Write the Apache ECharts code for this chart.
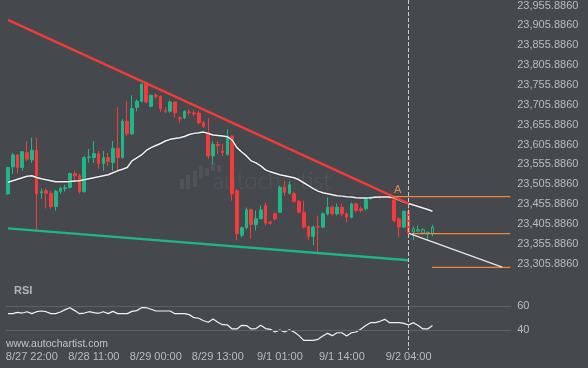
<!DOCTYPE html>
<html>
<head>
<meta charset="utf-8">
<script src="https://cdn.jsdelivr.net/npm/echarts@6/dist/echarts.min.js"></script>
<style>
html,body{margin:0;padding:0;background:#45484c;}
#chart{width:588px;height:368px;}
</style>
</head>
<body>
<div id="chart"></div>
<script>
// ---- data ----
const candleCount = 90;
const slotCount = 106; // candles + empty space to the right
const tickIdx = [5, 18, 31, 44, 57, 70, 84];
const tickText = ['8/27 22:00', '8/28 11:00', '8/29 00:00', '8/29 13:00', '9/1 01:00', '9/1 14:00', '9/2 04:00'];
const priceTicks = [23305.886, 23355.886, 23405.886, 23455.886, 23505.886, 23555.886, 23605.886,
  23655.886, 23705.886, 23755.886, 23805.886, 23855.886, 23905.886, 23955.886];
const rsiTicks = [40, 60];
const hollowFrom = 85;
// [open, close, low, high]
const candles = [
[23481.4,23547.9,23479.6,23549.6],[23549.6,23579.6,23532.1,23584.6],[23579.6,23547.9,23532.9,23582.1],
[23547.9,23587.9,23539.6,23589.6],[23585.4,23568.9,23564.6,23614.6],[23567.1,23591.4,23559.6,23622.9],
[23591.4,23481.4,23389.6,23622.9],[23484.6,23487.1,23469.6,23494.6],[23489.6,23482.9,23444.6,23494.6],
[23482.9,23449.6,23444.6,23489.6],[23449.6,23487.9,23439.6,23492.1],[23487.9,23495.4,23482.1,23499.6],
[23494.6,23497.1,23487.1,23504.6],[23497.9,23532.9,23494.6,23535.4],[23532.9,23527.1,23509.6,23539.6],
[23527.1,23487.1,23482.1,23532.1],[23487.1,23572.9,23484.6,23577.1],[23572.9,23574.6,23560.4,23594.6],
[23572.9,23582.9,23559.6,23614.6],[23582.9,23557.9,23544.6,23589.6],[23557.9,23572.9,23539.6,23589.6],
[23572.9,23562.9,23552.1,23584.6],[23560.4,23596.4,23539.6,23614.6],[23596.4,23572.9,23539.6,23699.6],
[23572.9,23664.6,23569.6,23669.6],[23664.6,23632.9,23627.1,23714.6],[23632.9,23696.4,23629.6,23729.6],
[23699.6,23714.6,23689.6,23719.6],[23714.6,23757.9,23712.1,23759.6],[23757.9,23712.9,23709.6,23762.9],
[23702.1,23729.6,23699.6,23732.1],[23729.6,23727.1,23722.1,23734.6],[23727.1,23696.4,23687.9,23729.6],
[23691.4,23689.6,23685.4,23699.6],[23689.6,23712.9,23685.4,23717.1],[23712.9,23685.4,23672.9,23714.6],
[23672.9,23670.4,23660.4,23677.1],[23672.9,23689.6,23669.6,23692.1],[23687.9,23686.6,23679.6,23694.6],
[23685.4,23682.9,23677.1,23692.1],[23685.4,23660.4,23657.1,23689.6],[23660.4,23652.1,23647.1,23664.6],
[23635.4,23577.1,23569.6,23672.9],[23577.1,23606.4,23556.4,23614.6],[23606.4,23602.9,23582.1,23614.6],
[23589.6,23585.4,23577.1,23607.1],[23581.4,23627.1,23577.1,23644.6],[23627.1,23481.4,23464.6,23629.6],
[23489.6,23381.4,23364.6,23494.6],[23377.1,23396.4,23372.1,23399.6],[23396.4,23441.4,23392.1,23447.1],
[23441.4,23404.6,23368.9,23444.6],[23404.6,23418.9,23389.6,23439.6],[23418.9,23441.4,23417.1,23452.1],
[23452.1,23407.9,23402.1,23459.6],[23410.4,23407.9,23404.6,23414.6],[23431.4,23418.9,23414.6,23434.6],
[23435.4,23497.9,23434.6,23502.1],[23497.9,23485.4,23477.1,23514.6],[23482.9,23504.6,23479.6,23512.9],
[23482.9,23462.9,23459.6,23487.1],[23462.9,23435.4,23432.1,23467.1],[23435.4,23397.9,23394.6,23464.6],
[23399.6,23374.6,23364.6,23402.1],[23374.6,23397.9,23352.1,23402.1],[23399.6,23397.9,23335.4,23427.1],
[23397.9,23431.4,23394.6,23434.6],[23431.4,23447.9,23427.1,23472.9],[23447.9,23431.4,23427.1,23452.1],
[23431.4,23447.9,23427.1,23457.1],[23447.9,23431.4,23424.6,23457.1],[23431.4,23422.9,23410.4,23434.6],
[23422.9,23456.4,23419.6,23459.6],[23456.4,23439.6,23434.6,23459.6],[23443.9,23439.6,23434.6,23449.6],
[23443.9,23468.9,23439.6,23472.1],[23468.9,23472.9,23467.1,23474.6],[23472.9,23474.6,23472.1,23475.9],
[23474.6,23471.4,23469.6,23475.9],[23472.9,23474.6,23472.1,23475.9],[23474.6,23471.4,23469.6,23475.9],
[23466.4,23414.6,23409.6,23469.6],[23418.9,23397.9,23371.4,23422.1],[23397.9,23437.9,23394.6,23439.6],
[23437.9,23382.9,23379.6,23452.1],[23385.4,23393.9,23364.6,23399.6],[23391.4,23387.9,23384.6,23402.1],
[23391.4,23382.9,23379.6,23394.6],[23384.6,23382.1,23364.6,23387.1],[23381.4,23397.9,23374.6,23403.9]
];
const movingAvg = [
23510.9,23514.6,23518.4,23522.1,23525.9,23527.1,23522.9,23519.6,23517.1,23514.6,
23512.1,23512.1,23512.1,23512.9,23513.9,23514.6,23517.1,23519.6,23522.1,23524.6,
23527.1,23529.6,23534.6,23539.6,23543.4,23547.9,23564.6,23572.1,23579.6,23590.9,
23597.9,23603.4,23608.4,23614.6,23618.9,23620.9,23622.9,23625.9,23630.9,23633.9,
23635.4,23637.1,23633.4,23629.6,23628.4,23627.1,23625.4,23617.1,23597.9,23587.1,
23577.1,23564.6,23559.6,23552.1,23542.1,23537.1,23533.4,23529.6,23527.1,23524.6,
23522.1,23517.1,23509.6,23502.1,23494.6,23488.4,23484.6,23482.1,23479.6,23477.1,
23475.9,23474.6,23473.4,23472.1,23471.4,23471.4,23472.1,23472.9,23473.4,23473.9,
23473.9,23470.9,23465.9,23460.9,23457.1,23453.4,23449.6,23445.9,23442.1,23437.9
];
const rsi = [
53.7,53.7,54.8,54.2,55.3,53.7,55.3,55.9,55.3,53.7,
53.7,55.1,57.0,58.6,56.2,53.7,54.2,55.3,54.5,54.0,
55.3,53.7,55.6,53.7,53.7,53.7,55.6,56.2,58.6,58.6,
57.3,55.9,55.9,55.9,55.9,53.7,53.7,53.7,52.9,50.4,
49.9,47.9,46.6,49.3,46.6,44.6,44.4,41.1,41.1,44.1,
43.9,41.1,41.4,44.1,41.4,40.8,38.6,40.2,38.6,40.5,
38.6,35.6,31.7,31.7,31.7,32.6,35.3,37.5,35.6,38.0,
38.0,35.3,38.0,38.6,41.1,43.9,46.3,46.3,47.4,49.0,
46.3,46.3,46.3,45.7,44.4,46.3,43.9,41.1,41.1,43.9
];
const resistance = [[0, 23919.6], [84, 23457.1]];
const support = [[0, 23394.6], [84, 23314.6]];
const levelA = [[80.7, 23474.6], [105.3, 23474.6]];
const levelB = [[84.7, 23381.4], [105.3, 23381.4]];
const levelC = [[88.9, 23296.4], [105.3, 23296.4]];
const forecast = [[84.07, 23382.1], [103.6, 23297.1]];
const markerA = [81.7, 23474.6];
const nowIdx = 84;
const nowLineSpan = [311.85, 23.8]; // in RSI-panel units, top to bottom

// ---- chart ----
const BG = '#45484c', UP = '#1fb787', DOWN = '#f53a3b', ORANGE = '#f2843c', TXT = '#babcbf';
const FONT = '"Liberation Sans", Arial, sans-serif';
const categories = Array.from({length: slotCount}, (_, i) => String(i));
const fmtPrice = v => {
  const m = priceTicks.find(t => Math.abs(t - v) < 0.5);
  return m === undefined ? '' : m.toLocaleString('en-US', {minimumFractionDigits: 4, maximumFractionDigits: 4});
};
const candleData = candles.map((c, i) => i >= hollowFrom
  ? {value: c, itemStyle: {color: BG, color0: BG, borderColor: UP, borderColor0: DOWN}}
  : c);

const chart = echarts.init(document.getElementById('chart'), null, {renderer: 'canvas'});
chart.setOption({
  animation: false,
  backgroundColor: BG,
  textStyle: {fontFamily: FONT},
  grid: [
    {left: 5.6, top: 0, width: 505.6, height: 283.5},
    {left: 5.6, top: 0, width: 505.6, height: 354.6}
  ],
  xAxis: [
    {type: 'category', gridIndex: 0, data: categories, show: false},
    {type: 'value', gridIndex: 0, min: -0.5, max: slotCount - 0.5, show: false},
    {type: 'category', gridIndex: 1, data: categories,
      axisLine: {show: false}, axisTick: {show: false}, splitLine: {show: false},
      axisLabel: {color: TXT, fontSize: 11, fontFamily: FONT, margin: 2.5, verticalAlign: 'middle',
        interval: i => tickIdx.includes(i),
        formatter: (v, i) => { const k = tickIdx.indexOf(Number(v)); return k < 0 ? '' : tickText[k]; }}}
  ],
  yAxis: [
    {type: 'value', gridIndex: 0, position: 'right', min: 23255.886, max: 23964.636, interval: 50,
      axisLine: {show: false}, axisTick: {show: false}, splitLine: {show: false},
      axisLabel: {color: TXT, fontSize: 11, fontFamily: FONT, margin: 6, formatter: fmtPrice}},
    {type: 'value', gridIndex: 1, position: 'right', min: 20, max: 311.85, interval: 20,
      axisLine: {show: false}, axisTick: {show: false}, splitLine: {show: false},
      axisLabel: {color: TXT, fontSize: 11, fontFamily: FONT, margin: 6,
        formatter: v => rsiTicks.includes(Math.round(v)) ? String(Math.round(v)) : ''}}
  ],
  series: [
    {type: 'candlestick', xAxisIndex: 0, yAxisIndex: 0, data: candleData, barWidth: 3.2,
      itemStyle: {color: UP, color0: DOWN, borderColor: UP, borderColor0: DOWN, borderWidth: 1}},
    {type: 'line', xAxisIndex: 0, yAxisIndex: 0, data: movingAvg, symbol: 'none',
      lineStyle: {color: '#f2f2f2', width: 1.5, shadowColor: 'rgba(0,0,0,0.35)', shadowBlur: 2}},
    {type: 'line', xAxisIndex: 1, yAxisIndex: 0, data: resistance, symbol: 'none',
      lineStyle: {color: '#f03b3b', width: 2.4}},
    {type: 'line', xAxisIndex: 1, yAxisIndex: 0, data: support, symbol: 'none',
      lineStyle: {color: '#1fb489', width: 2.4}},
    {type: 'line', xAxisIndex: 1, yAxisIndex: 0, data: levelA, symbol: 'none',
      lineStyle: {color: ORANGE, width: 1.3},
      markPoint: {symbol: 'circle', symbolSize: 0, silent: true,
        label: {show: true, position: 'top', distance: 1, formatter: 'A', color: '#e0894f', fontSize: 11, fontFamily: FONT},
        data: [{coord: markerA}]}},
    {type: 'line', xAxisIndex: 1, yAxisIndex: 0, data: levelB, symbol: 'none',
      lineStyle: {color: ORANGE, width: 1.3}},
    {type: 'line', xAxisIndex: 1, yAxisIndex: 0, data: levelC, symbol: 'none',
      lineStyle: {color: ORANGE, width: 1.3}},
    {type: 'line', xAxisIndex: 1, yAxisIndex: 0, data: [], symbol: 'none',
      markLine: {silent: true, symbol: ['none', 'path://M0,10 L5,0 L10,10 L8.6,10 L5,2.6 L1.4,10 Z'], symbolSize: [0, 9],
        label: {show: false}, lineStyle: {color: '#e8e8e8', width: 1.3, type: 'solid'},
        data: [[{coord: forecast[0]}, {coord: forecast[1]}]]}},
    {type: 'line', xAxisIndex: 2, yAxisIndex: 1, data: rsi, symbol: 'none',
      lineStyle: {color: '#f2f2f2', width: 1.2},
      markLine: {silent: true, symbol: 'none', label: {show: false},
        data: [
          {yAxis: rsiTicks[0], lineStyle: {color: '#5d6064', width: 1, type: 'solid'}},
          {yAxis: rsiTicks[1], lineStyle: {color: '#5d6064', width: 1, type: 'solid'}},
          [{coord: [String(nowIdx), nowLineSpan[0]], lineStyle: {color: '#c9c9c9', width: 1, type: [4, 2]}},
           {coord: [String(nowIdx), nowLineSpan[1]]}]
        ]}}
  ],
  graphic: [
    {type: 'text', left: 14, top: 285, style: {text: 'RSI', fill: '#b3b5b8', font: 'bold 11px ' + FONT}},
    {type: 'text', left: 6, top: 339, style: {text: 'www.autochartist.com', fill: '#c2c4c6', font: '10.5px ' + FONT}},
    {type: 'group', left: 180, top: 163, silent: true, children: [
      {type: 'rect', shape: {x: 0, y: 17, width: 4, height: 10}, style: {fill: 'rgba(255,255,255,0.06)'}},
      {type: 'rect', shape: {x: 6, y: 13, width: 4, height: 14}, style: {fill: 'rgba(255,255,255,0.06)'}},
      {type: 'rect', shape: {x: 13, y: 9, width: 4, height: 16}, style: {fill: 'rgba(255,255,255,0.06)'}},
      {type: 'rect', shape: {x: 19, y: 4, width: 4, height: 12}, style: {fill: 'rgba(255,255,255,0.06)'}},
      {type: 'rect', shape: {x: 25, y: 6, width: 4, height: 8}, style: {fill: 'rgba(255,255,255,0.06)'}},
      {type: 'rect', shape: {x: 31, y: 1, width: 4, height: 8}, style: {fill: 'rgba(255,255,255,0.06)'}},
      {type: 'rect', shape: {x: 37, y: 3, width: 4, height: 7}, style: {fill: 'rgba(255,255,255,0.06)'}},
      {type: 'text', x: 33, y: 8, style: {text: 'autochartist', fill: 'rgba(255,255,255,0.07)', font: '300 23px Lato, ' + FONT}}
    ]}
  ]
});
</script>
</body>
</html>
